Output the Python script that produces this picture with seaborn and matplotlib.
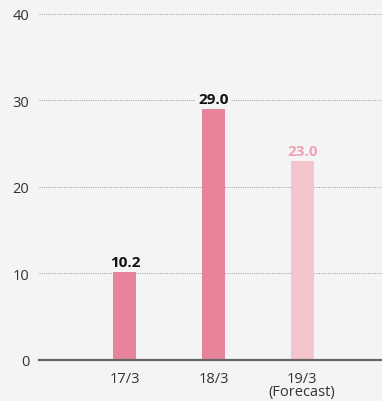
import matplotlib
matplotlib.use("Agg")
import matplotlib.pyplot as plt
import seaborn as sns
import pandas as pd

categories = ["17/3", "18/3", "19/3\n(Forecast)"]
values = [10.2, 29.0, 23.0]
bar_colors = ["#e8849a", "#e8849a", "#f4c5cd"]
label_colors = ["#111111", "#111111", "#f0a3b5"]
yticks = [0, 10, 20, 30, 40]

sns.set_style("white")
plt.rcParams["font.family"] = ["Open Sans", "DejaVu Sans"]

df = pd.DataFrame({"period": categories, "value": values})

fig = plt.figure(figsize=(3.82, 4.02), dpi=100, facecolor="#f4f4f4")
ax = fig.add_axes([0.102, 0.102, 0.898, 0.861])
ax.set_facecolor("#f4f4f4")

sns.barplot(data=df, x="period", y="value", hue="period", palette=bar_colors,
            width=0.26, legend=False, ax=ax, saturation=1, linewidth=0)

ax.set_xlim(-0.97, 2.9)
ax.set_ylim(0, 40)
ax.set_yticks(yticks)
ax.set_yticklabels([str(t) for t in yticks])
ax.yaxis.grid(True, linestyle=(0, (1, 1.3)), color="#999999", linewidth=0.7)
ax.set_axisbelow(True)
for s in ["top", "right", "left"]:
    ax.spines[s].set_visible(False)
ax.spines["bottom"].set_color("#666666")
ax.spines["bottom"].set_linewidth(1.6)
ax.tick_params(axis="both", length=0, labelsize=10.5, colors="#333333")
ax.tick_params(axis="y", pad=7)
ax.tick_params(axis="x", pad=8)
for lbl in ax.get_xticklabels():
    lbl.set_linespacing(0.8)
    lbl.set_verticalalignment("top")
ax.set_xlabel("")
ax.set_ylabel("")

for i, (v, c) in enumerate(zip(values, label_colors)):
    ax.text(i, v + 0.35, f"{v:.1f}", ha="center", va="bottom", fontsize=11,
            fontweight="bold", color=c,
            bbox=dict(facecolor="#f4f4f4", edgecolor="none", pad=1.5))

fig.savefig("out.png", dpi=100, facecolor="#f4f4f4")
